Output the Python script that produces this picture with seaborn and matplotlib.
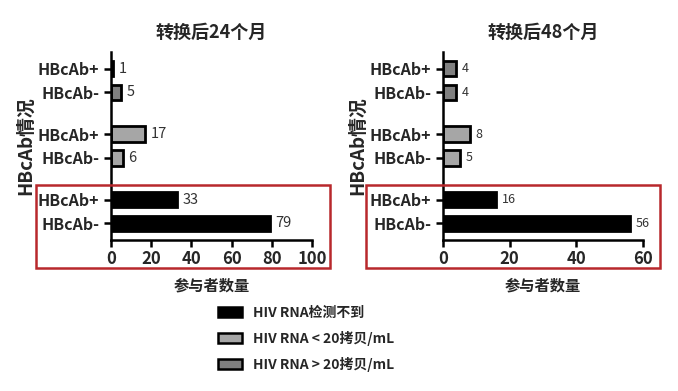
import matplotlib
matplotlib.use("Agg")
import matplotlib.pyplot as plt
import matplotlib.patches as mpatches
import pandas as pd
import seaborn as sns

# data
row_labels = ['HBcAb+', 'HBcAb-', 'HBcAb+', 'HBcAb-', 'HBcAb+', 'HBcAb-']
row_pos = [0, 1, 2.75, 3.75, 5.5, 6.5]
groups = ['HIV RNA > 20拷贝/mL', 'HIV RNA > 20拷贝/mL',
          'HIV RNA < 20拷贝/mL', 'HIV RNA < 20拷贝/mL',
          'HIV RNA检测不到', 'HIV RNA检测不到']
counts_24 = [1, 5, 17, 6, 33, 79]
counts_48 = [4, 4, 8, 5, 16, 56]
titles = ['转换后24个月', '转换后48个月']
xticks_24 = [0, 20, 40, 60, 80, 100]
xticks_48 = [0, 20, 40, 60]

palette = {'HIV RNA检测不到': '#000000',
           'HIV RNA < 20拷贝/mL': '#a6a6a6',
           'HIV RNA > 20拷贝/mL': '#808080'}
legend_order = ['HIV RNA检测不到', 'HIV RNA < 20拷贝/mL', 'HIV RNA > 20拷贝/mL']

sns.set_style("ticks")
plt.rcParams['font.family'] = ['Noto Sans CJK SC', 'DejaVu Sans']

fig = plt.figure(figsize=(6.78, 3.91), dpi=100)
ax1 = fig.add_axes([0.1637, 0.386, 0.2965, 0.481])
ax2 = fig.add_axes([0.6534, 0.386, 0.295, 0.481])


def draw_panel(ax, counts, title, xticks, label_size):
    df = pd.DataFrame({'pos': row_pos, 'count': counts, 'group': groups})
    sns.barplot(data=df, x='count', y='pos', hue='group', orient='h',
                native_scale=True, dodge=False, width=0.65, palette=palette,
                edgecolor='black', linewidth=2, legend=False, ax=ax)
    for c in ax.containers:
        ax.bar_label(c, padding=4, fontsize=label_size, color='#333333')
    ax.set_ylim(7.2, -0.7)
    ax.set_xlim(0, xticks[-1])
    ax.set_yticks(row_pos)
    ax.set_yticklabels(row_labels, fontsize=11.5, fontweight='bold')
    ax.set_xticks(xticks)
    ax.set_xticklabels([str(t) for t in xticks], fontsize=12, fontweight='bold')
    ax.tick_params(width=1.8, length=5, color='black')
    ax.tick_params(axis='x', pad=2)
    for s in ['left', 'bottom']:
        ax.spines[s].set_linewidth(1.8)
        ax.spines[s].set_color('black')
    for s in ['top', 'right']:
        ax.spines[s].set_visible(False)
    ax.set_title(title, fontsize=13, fontweight='bold', pad=10)
    ax.set_xlabel('参与者数量', fontsize=11, fontweight='bold', labelpad=7)
    ax.set_ylabel('HBcAb情况', fontsize=13.5, fontweight='bold', labelpad=2)


draw_panel(ax1, counts_24, titles[0], xticks_24, 10.5)
draw_panel(ax2, counts_48, titles[1], xticks_48, 9)

# red highlight boxes around the undetectable group
for x0 in [0.053, 0.540]:
    fig.add_artist(mpatches.Rectangle((x0, 0.315), 0.434, 0.212,
                                      transform=fig.transFigure, fill=False,
                                      edgecolor='#b8282c', linewidth=1.8))

handles = [mpatches.Patch(facecolor=palette[g], edgecolor='black', linewidth=1.8, label=g)
           for g in legend_order]
fig.legend(handles=handles, loc='upper left', bbox_to_anchor=(0.303, 0.25),
           frameon=False, prop={'size': 10, 'weight': 'bold'},
           handlelength=1.7, handleheight=0.75, labelspacing=0.8, handletextpad=0.8)

fig.savefig('out.png', dpi=100)
